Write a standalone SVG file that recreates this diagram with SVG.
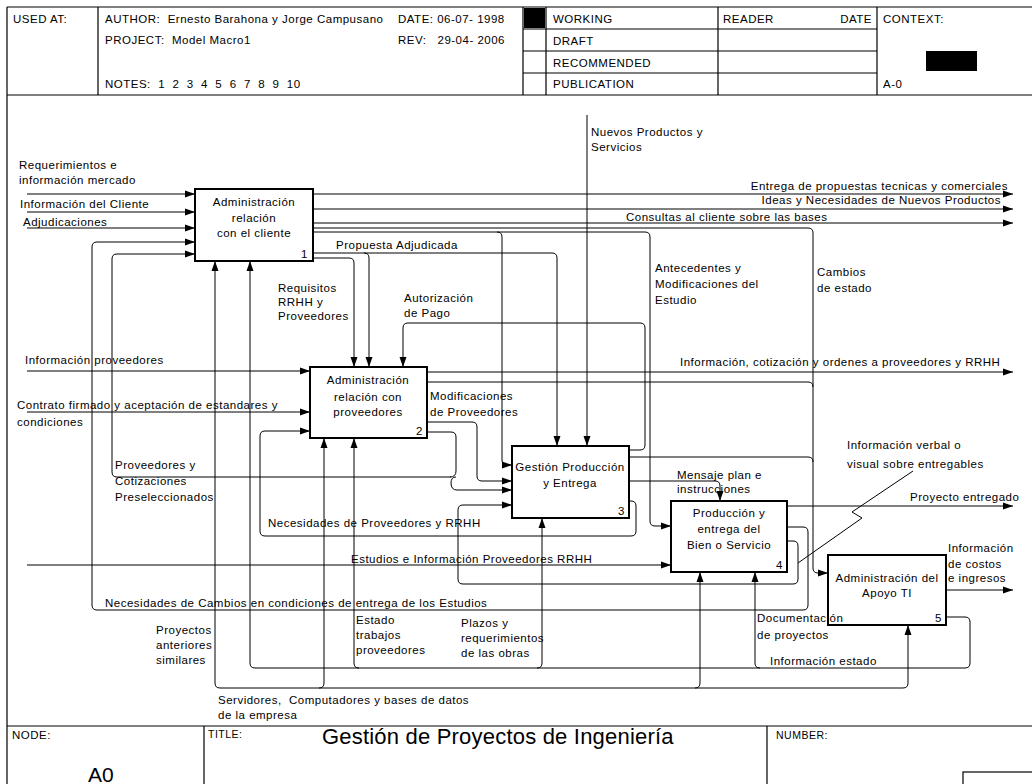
<svg xmlns="http://www.w3.org/2000/svg" width="1032" height="784" viewBox="0 0 1032 784">
  <style>
    text { font-family: "Liberation Sans", Arial, sans-serif; font-size: 11.5px; letter-spacing: 0.5px; fill: #000; white-space: pre; }
    .frame { stroke: #000; stroke-width: 1.2; fill: none; }
    .box { stroke: #000; stroke-width: 2; fill: none; }
    .wire { stroke: #000; stroke-width: 1; fill: none; }
    .arr { marker-end: url(#arrow); }
    .mid { text-anchor: middle; }
    .end { text-anchor: end; }
    .small { font-size: 10.5px; }
  </style>
  <defs>
    <marker id="arrow" markerWidth="10" markerHeight="8" refX="10" refY="4" orient="auto" markerUnits="userSpaceOnUse">
      <path d="M0,0.5 L10,4 L0,7.5 z" fill="#000"/>
    </marker>
  </defs>

  <rect width="1032" height="784" fill="#fff"/>

  <!-- title block frame -->
  <g id="frame">
    <path class="frame" d="M7,7 H1032 M7,7 V784 M7,95 H1032 M7,726 H1032"/>
    <path class="frame" d="M98,7 V95 M523,7 V95 M546,7 V95 M718,7 V95 M877,7 V95"/>
    <path class="frame" d="M523,29 H877 M523,51 H877 M523,73 H877"/>
    <path class="frame" d="M204,726 V784 M767,726 V784"/>
    <rect x="963" y="772" width="80" height="20" class="frame"/>
    <rect x="524" y="8" width="21" height="20" fill="#000"/>
    <rect x="926" y="51" width="51" height="20" fill="#000"/>
    <text x="13" y="23">USED AT:</text>
    <text x="105" y="23">AUTHOR:  Ernesto Barahona y Jorge Campusano</text>
    <text x="398" y="23">DATE: 06-07- 1998</text>
    <text x="105" y="44">PROJECT:  Model Macro1</text>
    <text x="398" y="44">REV:   29-04- 2006</text>
    <text x="105" y="88">NOTES:  1  2  3  4  5  6  7  8  9  10</text>
    <text x="553" y="23">WORKING</text>
    <text x="553" y="45">DRAFT</text>
    <text x="553" y="67">RECOMMENDED</text>
    <text x="553" y="88">PUBLICATION</text>
    <text x="723" y="23">READER</text>
    <text x="872" y="23" class="end">DATE</text>
    <text x="883" y="23">CONTEXT:</text>
    <text x="883" y="88">A-0</text>
    <text x="12" y="739">NODE:</text>
    <text x="88" y="782" style="font-size:21px;letter-spacing:0">A0</text>
    <text x="208" y="738" class="small">TITLE:</text>
    <text x="322" y="744" style="font-size:22px;letter-spacing:0.2px">Gestión de Proyectos de Ingeniería</text>
    <text x="776" y="739" class="small">NUMBER:</text>
  </g>

  <!-- arrows between activities -->
  <g id="connectors">
    <path class="wire arr" d="M27,194 H195"/>
    <path class="wire arr" d="M27,212 H195"/>
    <path class="wire arr" d="M27,228 H195"/>
    <path class="wire arr" d="M787,527 H803 Q808,527 808,532 V605 Q808,610 803,610 H97 Q92,610 92,605 V247 Q92,242 97,242 H195"/>
    <path class="wire arr" d="M451,477 H117 Q112,477 112,472 V259 Q112,254 117,254 H195"/>
    <path class="wire arr" d="M27,371 H310"/>
    <path class="wire arr" d="M27,412 H310"/>
    <path class="wire arr" d="M629,501 H631 Q636,501 636,506 V531 Q636,536 631,536 H265 Q260,536 260,531 V436 Q260,431 265,431 H310"/>
    <path class="wire arr" d="M27,565 H671"/>
    <path class="wire arr" d="M313,194 H1013"/>
    <path class="wire arr" d="M313,209 H1013"/>
    <path class="wire arr" d="M313,223 H1013"/>
    <path class="wire arr" d="M313,228 H808 Q813,228 813,233 V568 Q813,573 818,573 H828"/>
    <path class="wire arr" d="M313,232 H497 Q502,232 502,237 V460 Q502,465 507,465 H512"/>
    <path class="wire arr" d="M497,232 H645 Q650,232 650,237 V521 Q650,526 655,526 H671"/>
    <path class="wire arr" d="M313,253 H364 Q369,253 369,258 V367"/>
    <path class="wire arr" d="M364,253 H552 Q557,253 557,258 V446"/>
    <path class="wire arr" d="M313,258 H349 Q354,258 354,263 V367"/>
    <path class="wire arr" d="M427,372 H1013"/>
    <path class="wire" d="M427,382 H808 Q813,382 813,387"/>
    <path class="wire arr" d="M427,422 H472 Q477,422 477,427 V476 Q477,481 482,481 H512"/>
    <path class="wire" d="M427,432 H451 Q456,432 456,437 V471 Q456,477 450,477"/>
    <path class="wire arr" d="M456,477 Q451,477 451,483 Q451,490 457,490 H512"/>
    <path class="wire arr" d="M629,450 H640 Q645,450 645,445 V328 Q645,323 640,323 H408 Q403,323 403,328 V367"/>
    <path class="wire" d="M629,457 H808 Q813,457 813,462"/>
    <path class="wire arr" d="M629,481 H715 Q720,481 720,486 V501"/>
    <path class="wire arr" d="M787,506 H1013"/>
    <path class="wire arr" d="M787,541 H793 Q798,541 798,546 V579 Q798,584 793,584 H463 Q458,584 458,579 V510 Q458,505 463,505 H512"/>
    <path class="wire" d="M798,563 L862,518 L852,512 L913,471"/>
    <path class="wire arr" d="M946,590 H1013"/>
    <path class="wire arr" d="M946,617 H965 Q970,617 970,622 V663 Q970,668 965,668 H255 Q250,668 250,663 V261"/>
    <path class="wire arr" d="M760,668 Q755,668 755,663 V572"/>
    <path class="wire arr" d="M537,668 Q542,668 542,663 V518"/>
    <path class="wire arr" d="M359,668 Q354,668 354,663 V438"/>
    <path class="wire arr" d="M220,688 H903 Q908,688 908,683 V625"/>
    <path class="wire arr" d="M220,688 Q215,688 215,683 V261"/>
    <path class="wire arr" d="M319,688 Q324,688 324,683 V438"/>
    <path class="wire arr" d="M695,688 Q700,688 700,683 V572"/>
    <path class="wire arr" d="M587,115 V446"/>

    <!-- arrow labels -->
    <text x="19" y="169">Requerimientos e</text>
    <text x="19" y="184">información mercado</text>
    <text x="20" y="208">Información del Cliente</text>
    <text x="23" y="226">Adjudicaciones</text>
    <text x="25" y="364">Información proveedores</text>
    <text x="17" y="409">Contrato firmado y aceptación de estandares y</text>
    <text x="17" y="426">condiciones</text>
    <text x="115" y="469">Proveedores y</text>
    <text x="115" y="485">Cotizaciones</text>
    <text x="115" y="501">Preseleccionados</text>
    <text x="268" y="527">Necesidades de Proveedores y RRHH</text>
    <text x="351" y="563">Estudios e Información Proveedores RRHH</text>
    <text x="105" y="607">Necesidades de Cambios en condiciones de entrega de los Estudios</text>
    <text x="1008" y="190" class="end">Entrega de propuestas tecnicas y comerciales</text>
    <text x="1001" y="204" class="end">Ideas y Necesidades de Nuevos Productos</text>
    <text x="626" y="221">Consultas al cliente sobre las bases</text>
    <text x="336" y="249">Propuesta Adjudicada</text>
    <text x="278" y="292">Requisitos</text>
    <text x="278" y="306">RRHH y</text>
    <text x="278" y="320">Proveedores</text>
    <text x="404" y="302">Autorización</text>
    <text x="404" y="317">de Pago</text>
    <text x="591" y="136">Nuevos Productos y</text>
    <text x="591" y="151">Servicios</text>
    <text x="655" y="272">Antecedentes y</text>
    <text x="655" y="288">Modificaciones del</text>
    <text x="655" y="304">Estudio</text>
    <text x="817" y="276">Cambios</text>
    <text x="817" y="292">de estado</text>
    <text x="680" y="366">Información, cotización y ordenes a proveedores y RRHH</text>
    <text x="430" y="400">Modificaciones</text>
    <text x="430" y="416">de Proveedores</text>
    <text x="677" y="479">Mensaje plan e</text>
    <text x="677" y="493">instrucciones</text>
    <text x="847" y="449">Información verbal o</text>
    <text x="847" y="468">visual sobre entregables</text>
    <text x="910" y="501">Proyecto entregado</text>
    <text x="948" y="552">Información</text>
    <text x="948" y="568">de costos</text>
    <text x="948" y="582">e ingresos</text>
    <text x="757" y="622">Documentación</text>
    <text x="757" y="639">de proyectos</text>
    <text x="770" y="665">Información estado</text>
    <text x="356" y="624">Estado</text>
    <text x="356" y="639">trabajos</text>
    <text x="356" y="654">proveedores</text>
    <text x="461" y="627">Plazos y</text>
    <text x="461" y="642">requerimientos</text>
    <text x="461" y="657">de las obras</text>
    <text x="156" y="634">Proyectos</text>
    <text x="156" y="649">anteriores</text>
    <text x="156" y="664">similares</text>
    <text x="218" y="704">Servidores,  Computadores y bases de datos</text>
    <text x="218" y="719">de la empresa</text>
  </g>

  <!-- activities -->
  <g id="A1">
    <rect class="box" x="195" y="189" width="118" height="72"/>
    <text x="254" y="206" class="mid">Administración</text>
    <text x="254" y="222" class="mid">relación</text>
    <text x="254" y="237" class="mid">con el cliente</text>
    <text x="308" y="258" class="end">1</text>
  </g>
  <g id="A2">
    <rect class="box" x="310" y="367" width="117" height="71"/>
    <text x="368" y="384" class="mid">Administración</text>
    <text x="368" y="401" class="mid">relación con</text>
    <text x="368" y="416" class="mid">proveedores</text>
    <text x="423" y="435" class="end">2</text>
  </g>
  <g id="A3">
    <rect class="box" x="512" y="446" width="117" height="72"/>
    <text x="570" y="471" class="mid">Gestión Producción</text>
    <text x="570" y="487" class="mid">y Entrega</text>
    <text x="625" y="515" class="end">3</text>
  </g>
  <g id="A4">
    <rect class="box" x="671" y="501" width="116" height="71"/>
    <text x="729" y="517" class="mid">Producción y</text>
    <text x="729" y="533" class="mid">entrega del</text>
    <text x="729" y="549" class="mid">Bien o Servicio</text>
    <text x="783" y="569" class="end">4</text>
  </g>
  <g id="A5">
    <rect class="box" x="828" y="555" width="118" height="70"/>
    <text x="887" y="582" class="mid">Administración del</text>
    <text x="887" y="597" class="mid">Apoyo TI</text>
    <text x="942" y="622" class="end">5</text>
  </g>
</svg>
